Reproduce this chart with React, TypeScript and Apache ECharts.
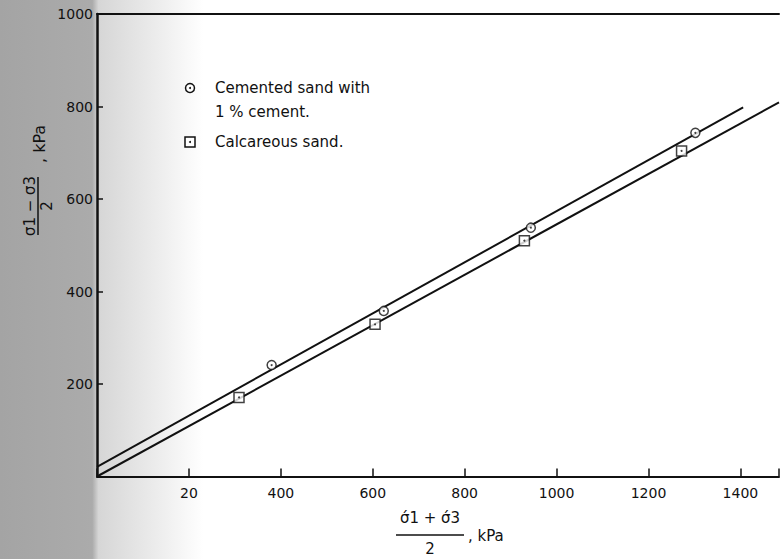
import React, { useEffect, useRef } from "react";
import * as echarts from "echarts";

// Data
const cementedPoints: [number, number][] = [
  [380, 241],
  [624, 358],
  [944, 538],
  [1302, 743],
];
const calcareousPoints: [number, number][] = [
  [309, 171],
  [605, 329],
  [930, 510],
  [1272, 704],
];
const cementedLine: [number, number][] = [
  [0, 21],
  [1406, 798],
];
const calcareousLine: [number, number][] = [
  [0, 0],
  [1484, 809],
];
const xTickLabels: Record<number, string> = {
  200: "20",
  400: "400",
  600: "600",
  800: "800",
  1000: "1000",
  1200: "1200",
  1400: "1400",
};
const yTickValues = [200, 400, 600, 800, 1000];

const FONT = "DejaVu Sans";

export default function App() {
  const ref = useRef<HTMLDivElement>(null);
  useEffect(() => {
    if (!ref.current) return;
    const chart = echarts.init(ref.current, undefined, { renderer: "svg" });
    const black = "#111";
    chart.setOption({
      animation: false,
      backgroundColor: "#fff",
      grid: { left: 97, right: 0, top: 14, bottom: 82.5, containLabel: false },
      xAxis: [
        {
          type: "value",
          min: 0,
          max: 1484,
          interval: 200,
          axisLine: { show: true, lineStyle: { color: black, width: 2 } },
          axisTick: { show: true, inside: true, length: 8, lineStyle: { color: black, width: 1.5 } },
          splitLine: { show: false },
          axisLabel: {
            margin: 9,
            color: black,
            fontFamily: FONT,
            fontSize: 14,
            formatter: (v: number) => xTickLabels[v] ?? "",
          },
        },
        {
          type: "value",
          position: "top",
          min: 0,
          max: 1484,
          axisLine: { show: true, lineStyle: { color: black, width: 2 } },
          axisTick: { show: false },
          axisLabel: { show: false },
          splitLine: { show: false },
        },
      ],
      yAxis: {
        type: "value",
        min: 0,
        max: 1000,
        interval: 200,
        axisLine: { show: true, lineStyle: { color: black, width: 2.5 } },
        axisTick: { show: true, inside: true, length: 6, lineStyle: { color: black, width: 1.5 } },
        splitLine: { show: false },
        axisLabel: {
          margin: 4,
          color: black,
          fontFamily: FONT,
          fontSize: 14,
          formatter: (v: number) => (yTickValues.includes(v) ? String(v) : ""),
        },
      },
      graphic: [
        {
          type: "rect",
          z: -100,
          silent: true,
          shape: { x: 0, y: 0, width: 782, height: 559 },
          style: {
            fill: new echarts.graphic.LinearGradient(0, 0, 1, 0, [
              { offset: 0, color: "#a4a4a4" },
              { offset: 0.118, color: "#ababab" },
              { offset: 0.126, color: "#d6d6d6" },
              { offset: 0.2, color: "#ececec" },
              { offset: 0.26, color: "#ffffff" },
              { offset: 1, color: "#ffffff" },
            ]),
          },
        },
        // Legend
        { type: "circle", shape: { cx: 190, cy: 88, r: 4.5 }, style: { fill: "#fff", stroke: black, lineWidth: 1.5 } },
        { type: "circle", shape: { cx: 190, cy: 88, r: 1 }, style: { fill: black } },
        { type: "text", x: 215, y: 88, style: { text: "Cemented sand with", fontFamily: FONT, fontSize: 15, fill: black, verticalAlign: "middle" } },
        { type: "text", x: 215, y: 112, style: { text: "1 % cement.", fontFamily: FONT, fontSize: 15, fill: black, verticalAlign: "middle" } },
        { type: "rect", shape: { x: 185, y: 137, width: 10, height: 10 }, style: { fill: "#fff", stroke: black, lineWidth: 1.5 } },
        { type: "circle", shape: { cx: 190, cy: 142, r: 1 }, style: { fill: black } },
        { type: "text", x: 215, y: 142, style: { text: "Calcareous sand.", fontFamily: FONT, fontSize: 15, fill: black, verticalAlign: "middle" } },
        // X axis name: (σ'1 + σ'3)/2, kPa
        { type: "text", x: 430, y: 518, style: { text: "σ́1 + σ́3", fontFamily: FONT, fontSize: 15, fill: black, align: "center", verticalAlign: "middle" } },
        { type: "line", shape: { x1: 396, y1: 535, x2: 464, y2: 535 }, style: { stroke: black, lineWidth: 1.5 } },
        { type: "text", x: 430, y: 549, style: { text: "2", fontFamily: FONT, fontSize: 15, fill: black, align: "center", verticalAlign: "middle" } },
        { type: "text", x: 468, y: 536, style: { text: ", kPa", fontFamily: FONT, fontSize: 15, fill: black, verticalAlign: "middle" } },
        // Y axis name, rotated: (σ1 − σ3)/2, kPa
        {
          type: "group",
          x: 38,
          y: 235,
          rotation: Math.PI / 2,
          children: [
            { type: "text", x: 29, y: -8, style: { text: "σ1 − σ3", fontFamily: FONT, fontSize: 15, fill: black, align: "center", verticalAlign: "middle" } },
            { type: "line", shape: { x1: 0, y1: 0, x2: 58, y2: 0 }, style: { stroke: black, lineWidth: 1.5 } },
            { type: "text", x: 29, y: 9, style: { text: "2", fontFamily: FONT, fontSize: 15, fill: black, align: "center", verticalAlign: "middle" } },
            { type: "text", x: 72, y: 1, style: { text: ", kPa", fontFamily: FONT, fontSize: 16, fill: black, verticalAlign: "middle" } },
          ],
        },
      ],
      series: [
        {
          type: "line",
          data: cementedLine,
          symbol: "none",
          lineStyle: { color: black, width: 2 },
          z: 1,
        },
        {
          type: "line",
          data: calcareousLine,
          symbol: "none",
          lineStyle: { color: black, width: 2 },
          z: 1,
        },
        {
          type: "scatter",
          data: cementedPoints,
          symbol: "circle",
          symbolSize: 9,
          itemStyle: { color: "#fff", borderColor: black, borderWidth: 1.5 },
          z: 3,
        },
        {
          type: "scatter",
          data: calcareousPoints,
          symbol: "rect",
          symbolSize: 10,
          itemStyle: { color: "#fff", borderColor: black, borderWidth: 1.5 },
          z: 3,
        },
        {
          type: "scatter",
          data: [...cementedPoints, ...calcareousPoints],
          symbol: "circle",
          symbolSize: 2,
          itemStyle: { color: black },
          z: 4,
        },
      ],
    });
    return () => chart.dispose();
  }, []);
  return (
    <div
      ref={ref}
      style={{ position: "fixed", left: 0, top: 0, width: 782, height: 559 }}
    />
  );
}
